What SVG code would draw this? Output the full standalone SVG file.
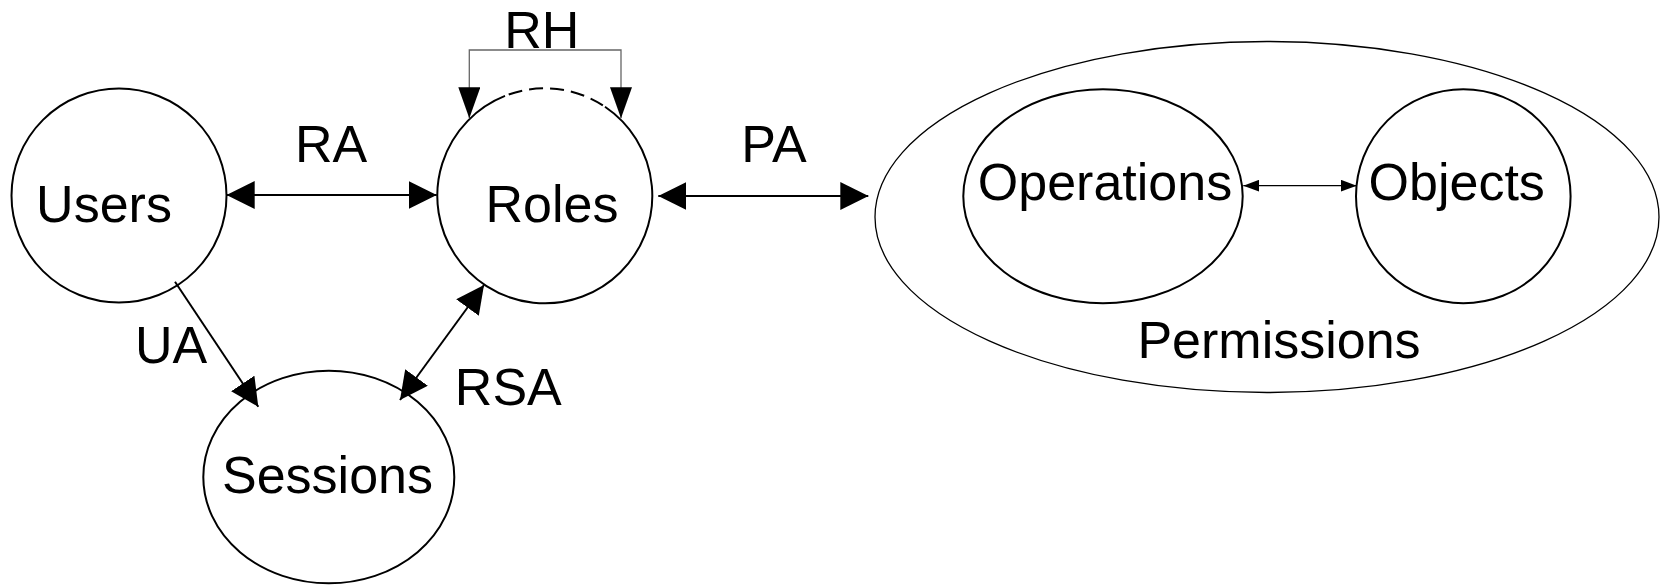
<svg xmlns="http://www.w3.org/2000/svg" width="1661" height="585" viewBox="0 0 1661 585">
  <style>
    .node { fill: #fff; stroke: #000; stroke-width: 2; }
    .outer { fill: #fff; stroke: #000; stroke-width: 1.3; }
    .lbl { font-family: "Liberation Sans", Arial, sans-serif; font-size: 52px; fill: #000; text-anchor: middle; }
    .conn { fill: none; stroke: #000; stroke-width: 2; }
    .thin { fill: none; stroke: #000; stroke-width: 1.2; }
    .rh { fill: none; stroke: #666; stroke-width: 1.3; }
  </style>
  <defs>
    <marker id="big" viewBox="0 0 28 28" refX="28" refY="14" markerWidth="28" markerHeight="28" markerUnits="userSpaceOnUse" orient="auto-start-reverse">
      <path d="M0,0 L28,14 L0,28 z" fill="#000"/>
    </marker>
    <marker id="mid" viewBox="0 0 31 22" refX="31" refY="11" markerWidth="31" markerHeight="22" markerUnits="userSpaceOnUse" orient="auto-start-reverse">
      <path d="M0,0 L31,11 L0,22 z" fill="#000"/>
    </marker>
    <marker id="small" viewBox="0 0 16 12" refX="16" refY="6" markerWidth="16" markerHeight="12" markerUnits="userSpaceOnUse" orient="auto-start-reverse">
      <path d="M0,0 L16,6 L0,12 z" fill="#000"/>
    </marker>
  </defs>

  <g id="permissions">
    <ellipse class="outer" cx="1267" cy="217" rx="392" ry="175.5"/>
    <text class="lbl" x="1279" y="358">Permissions</text>
  </g>

  <g id="users">
    <ellipse class="node" cx="119" cy="195.5" rx="107.5" ry="107"/>
    <text class="lbl" x="104" y="222">Users</text>
  </g>

  <g id="roles">
    <path class="node" d="M505,95.94 A107.5,107.5 0 1 0 605,106.74"/>
    <path d="M505,95.94 A107.5,107.5 0 0 1 605,106.74" fill="none" stroke="#000" stroke-width="2" stroke-dasharray="14 7" stroke-dashoffset="-4"/>
    <text class="lbl" x="552" y="221.5">Roles</text>
  </g>

  <g id="sessions">
    <ellipse class="node" cx="328.8" cy="477" rx="125.5" ry="106.3"/>
    <text class="lbl" x="327.5" y="493">Sessions</text>
  </g>

  <g id="operations">
    <ellipse class="node" cx="1103" cy="196.3" rx="139.7" ry="107"/>
    <text class="lbl" x="1105" y="200">Operations</text>
  </g>

  <g id="objects">
    <ellipse class="node" cx="1463.3" cy="196.3" rx="107.3" ry="107"/>
    <text class="lbl" x="1456.7" y="200">Objects</text>
  </g>

  <g id="connectors">
    <line class="conn" x1="226.7" y1="195" x2="436.7" y2="195" marker-start="url(#big)" marker-end="url(#big)"/>
    <text class="lbl" x="331" y="162">RA</text>

    <line class="conn" x1="658.3" y1="196" x2="868.3" y2="196" marker-start="url(#big)" marker-end="url(#big)"/>
    <text class="lbl" x="774" y="161.5">PA</text>

    <path class="rh" d="M469.3,118.3 V50 H621 V118.3" marker-start="url(#mid)" marker-end="url(#mid)"/>
    <text class="lbl" x="541.7" y="48">RH</text>

    <line class="conn" stroke-width="1.6" x1="175" y1="281.7" x2="258.3" y2="406.7" marker-end="url(#big)"/>
    <text class="lbl" x="171" y="363">UA</text>

    <line class="conn" stroke-width="1.8" x1="400" y1="400" x2="484" y2="285" marker-start="url(#big)" marker-end="url(#big)"/>
    <text class="lbl" x="508.3" y="405">RSA</text>

    <line class="thin" x1="1243.3" y1="185.7" x2="1356.7" y2="185.7" marker-start="url(#small)" marker-end="url(#small)"/>
  </g>
</svg>
